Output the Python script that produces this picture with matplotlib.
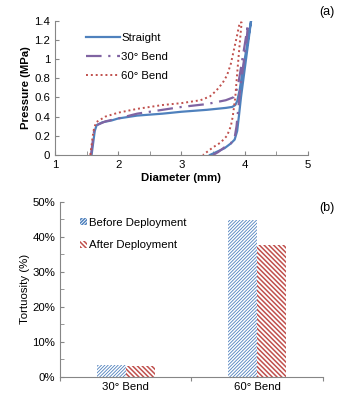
import numpy as np
import matplotlib.pyplot as plt
from matplotlib.ticker import MultipleLocator, FuncFormatter

plt.rcParams['font.family'] = ['Liberation Sans', 'DejaVu Sans']

# (a) pressure-diameter loops
straight_d = [1.58, 1.60, 1.63, 1.66, 1.75, 1.9, 2.0, 2.3, 2.7, 3.0, 3.4, 3.7, 3.8, 3.85, 3.88, 3.92, 3.96, 4.0, 4.05, 4.1,
              4.08, 4.03, 3.98, 3.94, 3.91, 3.88, 3.84, 3.78, 3.68, 3.55, 3.45]
straight_p = [0, 0.1, 0.25, 0.31, 0.34, 0.36, 0.38, 0.41, 0.43, 0.45, 0.47, 0.49, 0.50, 0.52, 0.56, 0.68, 0.85, 1.0, 1.2, 1.4,
              1.3, 1.05, 0.8, 0.6, 0.42, 0.25, 0.16, 0.12, 0.07, 0.03, 0.0]
bend30_d = [1.57, 1.59, 1.62, 1.66, 1.8, 2.0, 2.3, 2.7, 3.0, 3.4, 3.7, 3.82, 3.86, 3.9, 3.95, 4.0, 4.05,
            4.03, 3.98, 3.93, 3.9, 3.87, 3.84, 3.78, 3.68, 3.58, 3.5]
bend30_p = [0, 0.1, 0.25, 0.31, 0.35, 0.38, 0.43, 0.47, 0.5, 0.53, 0.57, 0.6, 0.65, 0.75, 0.95, 1.15, 1.36,
            1.2, 0.95, 0.7, 0.5, 0.3, 0.18, 0.12, 0.08, 0.03, 0.0]
bend60_d = [1.56, 1.58, 1.61, 1.65, 1.8, 2.0, 2.3, 2.7, 3.0, 3.3, 3.45, 3.55, 3.65, 3.72, 3.78, 3.83, 3.88, 3.92,
            3.95, 3.92, 3.88, 3.85, 3.81, 3.78, 3.72, 3.62, 3.5, 3.42, 3.34]
bend60_p = [0, 0.1, 0.25, 0.34, 0.4, 0.44, 0.48, 0.52, 0.54, 0.57, 0.61, 0.67, 0.75, 0.83, 0.95, 1.1, 1.25, 1.38,
            1.38, 1.16, 0.85, 0.6, 0.4, 0.3, 0.2, 0.13, 0.08, 0.04, 0.0]

# (b) tortuosity
bends = ['30° Bend', '60° Bend']
before = [3.3, 44.7]
after = [3.0, 37.7]

blue = '#4F81BD'
purple = '#8064A2'
red = '#C0504D'
grey = '#868686'
fs = 8.2

fig = plt.figure(figsize=(3.45, 4.11), dpi=100)

ax1 = fig.add_axes([0.159, 0.623, 0.734, 0.327])
ax1.plot(straight_d, straight_p, color=blue, lw=1.6, label='Straight')
ax1.plot(bend30_d, bend30_p, color=purple, lw=1.6, dashes=(7, 3, 1, 3), label='30° Bend')
ax1.plot(bend60_d, bend60_p, color=red, lw=1.4, dashes=(1, 1.5), label='60° Bend')
ax1.set_xlim(1, 5)
ax1.set_ylim(0, 1.4)
ax1.xaxis.set_major_locator(MultipleLocator(1))
ax1.xaxis.set_minor_locator(MultipleLocator(0.5))
ax1.yaxis.set_major_locator(MultipleLocator(0.2))
ax1.yaxis.set_major_formatter(FuncFormatter(lambda v, p: '0' if v == 0 else ('1' if abs(v - 1) < 1e-9 else f'{v:.1f}')))
ax1.tick_params(axis='both', which='both', direction='in', colors=grey, labelcolor='black', labelsize=fs, length=3)
ax1.set_xlabel('Diameter (mm)', fontsize=fs, fontweight='bold', labelpad=2)
ax1.set_ylabel('Pressure (MPa)', fontsize=fs, fontweight='bold', labelpad=2)
for s in ['top', 'right']:
    ax1.spines[s].set_visible(False)
for s in ['left', 'bottom']:
    ax1.spines[s].set_color(grey)
    ax1.spines[s].set_linewidth(0.8)
ax1.legend(loc='upper left', bbox_to_anchor=(0.105, 0.94), frameon=False, fontsize=fs,
           handlelength=3, handletextpad=0.1, labelspacing=0.8, borderaxespad=0)
fig.text(0.97, 0.97, '(a)', fontsize=9, ha='right', va='center')

ax2 = fig.add_axes([0.174, 0.0835, 0.762, 0.4255])
x = np.arange(len(bends))
w = 0.22
plt.rcParams['hatch.linewidth'] = 0.6
ax2.bar(x - w / 2, before, w, facecolor='white', edgecolor=blue, hatch='/' * 10, lw=0, label='Before Deployment')
plt.rcParams['hatch.linewidth'] = 1.1
ax2.bar(x + w / 2, after, w, facecolor='white', edgecolor=red, hatch='\\' * 7, lw=0, label='After Deployment')
ax2.set_xlim(-0.5, 1.5)
ax2.set_ylim(0, 50)
ax2.set_xticks([-0.5, 0.5, 1.5], minor=False)
ax2.set_xticklabels([])
ax2.set_xticks(x, minor=True)
ax2.set_xticklabels(bends, minor=True)
ax2.tick_params(axis='x', which='minor', length=0, labelsize=fs, pad=4)
ax2.tick_params(axis='x', which='major', direction='out', length=3, colors=grey)
ax2.yaxis.set_major_locator(MultipleLocator(10))
ax2.yaxis.set_minor_locator(MultipleLocator(5))
ax2.yaxis.set_major_formatter(FuncFormatter(lambda v, p: f'{v:.0f}%'))
ax2.tick_params(axis='y', which='both', direction='in', length=3, colors=grey, labelcolor='black', labelsize=fs)
ax2.set_ylabel('Tortuosity (%)', fontsize=fs, labelpad=2)
for s in ['top', 'right']:
    ax2.spines[s].set_visible(False)
for s in ['left', 'bottom']:
    ax2.spines[s].set_color(grey)
    ax2.spines[s].set_linewidth(0.8)
ax2.legend(loc='upper left', bbox_to_anchor=(0.06, 0.935), frameon=False, fontsize=fs,
           handlelength=0.6, handleheight=0.6, handletextpad=0.2, labelspacing=1.1, borderaxespad=0)
fig.text(0.97, 0.495, '(b)', fontsize=9, ha='right', va='center')

fig.savefig('out.png', dpi=100)
